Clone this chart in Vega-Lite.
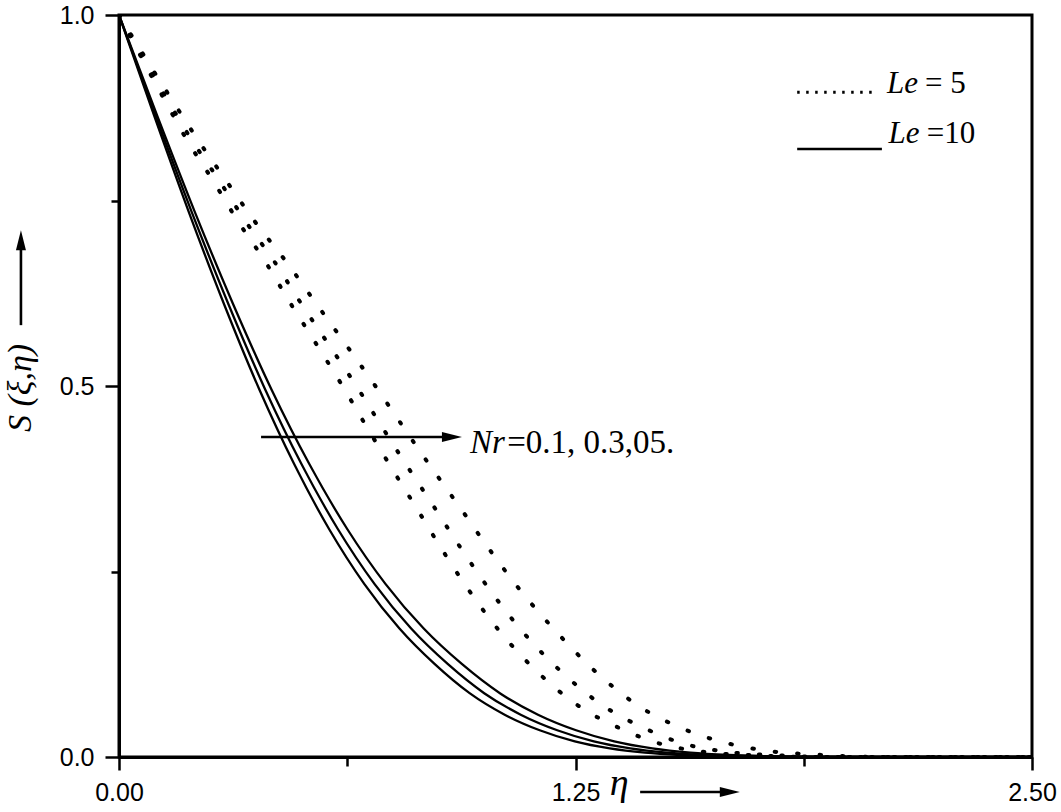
{
  "$schema": "https://vega.github.io/schema/vega-lite/v6.json",
  "width": 913,
  "height": 742,
  "autosize": "none",
  "padding": {"left": 119, "top": 15, "right": 29, "bottom": 55},
  "background": "white",
  "config": {
    "view": {"stroke": "black", "strokeWidth": 3},
    "axis": {
      "grid": false,
      "title": null,
      "domainColor": "black",
      "domainWidth": 3,
      "tickColor": "black",
      "tickWidth": 2.5,
      "labelColor": "black",
      "labelFont": "Liberation Sans",
      "labelFontSize": 25
    }
  },
  "datasets": {
    "curves": [
      {"eta": 0, "S": 1, "Le": 10, "Nr": 0.1},
      {"eta": 0.096, "S": 0.8647, "Le": 10, "Nr": 0.1},
      {"eta": 0.192, "S": 0.7334, "Le": 10, "Nr": 0.1},
      {"eta": 0.288, "S": 0.6099, "Le": 10, "Nr": 0.1},
      {"eta": 0.384, "S": 0.4957, "Le": 10, "Nr": 0.1},
      {"eta": 0.48, "S": 0.3945, "Le": 10, "Nr": 0.1},
      {"eta": 0.576, "S": 0.3066, "Le": 10, "Nr": 0.1},
      {"eta": 0.672, "S": 0.233, "Le": 10, "Nr": 0.1},
      {"eta": 0.768, "S": 0.1731, "Le": 10, "Nr": 0.1},
      {"eta": 0.864, "S": 0.1254, "Le": 10, "Nr": 0.1},
      {"eta": 0.96, "S": 0.086, "Le": 10, "Nr": 0.1},
      {"eta": 1.056, "S": 0.057, "Le": 10, "Nr": 0.1},
      {"eta": 1.152, "S": 0.036, "Le": 10, "Nr": 0.1},
      {"eta": 1.248, "S": 0.021, "Le": 10, "Nr": 0.1},
      {"eta": 1.344, "S": 0.0115, "Le": 10, "Nr": 0.1},
      {"eta": 1.44, "S": 0.0058, "Le": 10, "Nr": 0.1},
      {"eta": 1.536, "S": 0.0027, "Le": 10, "Nr": 0.1},
      {"eta": 1.632, "S": 0.0011, "Le": 10, "Nr": 0.1},
      {"eta": 1.728, "S": 0.0004, "Le": 10, "Nr": 0.1},
      {"eta": 1.92, "S": 0, "Le": 10, "Nr": 0.1},
      {"eta": 2.5, "S": 0, "Le": 10, "Nr": 0.1},

      {"eta": 0, "S": 1, "Le": 10, "Nr": 0.3},
      {"eta": 0.1, "S": 0.8647, "Le": 10, "Nr": 0.3},
      {"eta": 0.2, "S": 0.7334, "Le": 10, "Nr": 0.3},
      {"eta": 0.3, "S": 0.6099, "Le": 10, "Nr": 0.3},
      {"eta": 0.4, "S": 0.4957, "Le": 10, "Nr": 0.3},
      {"eta": 0.5, "S": 0.3945, "Le": 10, "Nr": 0.3},
      {"eta": 0.6, "S": 0.3066, "Le": 10, "Nr": 0.3},
      {"eta": 0.7, "S": 0.233, "Le": 10, "Nr": 0.3},
      {"eta": 0.8, "S": 0.1731, "Le": 10, "Nr": 0.3},
      {"eta": 0.9, "S": 0.1254, "Le": 10, "Nr": 0.3},
      {"eta": 1.0, "S": 0.086, "Le": 10, "Nr": 0.3},
      {"eta": 1.1, "S": 0.057, "Le": 10, "Nr": 0.3},
      {"eta": 1.2, "S": 0.036, "Le": 10, "Nr": 0.3},
      {"eta": 1.3, "S": 0.021, "Le": 10, "Nr": 0.3},
      {"eta": 1.4, "S": 0.0115, "Le": 10, "Nr": 0.3},
      {"eta": 1.5, "S": 0.0058, "Le": 10, "Nr": 0.3},
      {"eta": 1.6, "S": 0.0027, "Le": 10, "Nr": 0.3},
      {"eta": 1.7, "S": 0.0011, "Le": 10, "Nr": 0.3},
      {"eta": 1.8, "S": 0.0004, "Le": 10, "Nr": 0.3},
      {"eta": 2.0, "S": 0, "Le": 10, "Nr": 0.3},
      {"eta": 2.5, "S": 0, "Le": 10, "Nr": 0.3},

      {"eta": 0, "S": 1, "Le": 10, "Nr": 0.5},
      {"eta": 0.1043, "S": 0.8647, "Le": 10, "Nr": 0.5},
      {"eta": 0.2086, "S": 0.7334, "Le": 10, "Nr": 0.5},
      {"eta": 0.3129, "S": 0.6099, "Le": 10, "Nr": 0.5},
      {"eta": 0.4172, "S": 0.4957, "Le": 10, "Nr": 0.5},
      {"eta": 0.5215, "S": 0.3945, "Le": 10, "Nr": 0.5},
      {"eta": 0.6258, "S": 0.3066, "Le": 10, "Nr": 0.5},
      {"eta": 0.7301, "S": 0.233, "Le": 10, "Nr": 0.5},
      {"eta": 0.8344, "S": 0.1731, "Le": 10, "Nr": 0.5},
      {"eta": 0.9387, "S": 0.1254, "Le": 10, "Nr": 0.5},
      {"eta": 1.043, "S": 0.086, "Le": 10, "Nr": 0.5},
      {"eta": 1.1473, "S": 0.057, "Le": 10, "Nr": 0.5},
      {"eta": 1.2516, "S": 0.036, "Le": 10, "Nr": 0.5},
      {"eta": 1.3559, "S": 0.021, "Le": 10, "Nr": 0.5},
      {"eta": 1.4602, "S": 0.0115, "Le": 10, "Nr": 0.5},
      {"eta": 1.5645, "S": 0.0058, "Le": 10, "Nr": 0.5},
      {"eta": 1.6688, "S": 0.0027, "Le": 10, "Nr": 0.5},
      {"eta": 1.7731, "S": 0.0011, "Le": 10, "Nr": 0.5},
      {"eta": 1.8774, "S": 0.0004, "Le": 10, "Nr": 0.5},
      {"eta": 2.086, "S": 0, "Le": 10, "Nr": 0.5},
      {"eta": 2.5, "S": 0, "Le": 10, "Nr": 0.5},

      {"eta": 0, "S": 1, "Le": 5, "Nr": 0.1},
      {"eta": 0.06, "S": 0.944, "Le": 5, "Nr": 0.1},
      {"eta": 0.122, "S": 0.888, "Le": 5, "Nr": 0.1},
      {"eta": 0.183, "S": 0.834, "Le": 5, "Nr": 0.1},
      {"eta": 0.257, "S": 0.777, "Le": 5, "Nr": 0.1},
      {"eta": 0.327, "S": 0.721, "Le": 5, "Nr": 0.1},
      {"eta": 0.4, "S": 0.668, "Le": 5, "Nr": 0.1},
      {"eta": 0.47, "S": 0.611, "Le": 5, "Nr": 0.1},
      {"eta": 0.541, "S": 0.556, "Le": 5, "Nr": 0.1},
      {"eta": 0.612, "S": 0.5, "Le": 5, "Nr": 0.1},
      {"eta": 0.678, "S": 0.445, "Le": 5, "Nr": 0.1},
      {"eta": 0.747, "S": 0.389, "Le": 5, "Nr": 0.1},
      {"eta": 0.814, "S": 0.336, "Le": 5, "Nr": 0.1},
      {"eta": 0.884, "S": 0.28, "Le": 5, "Nr": 0.1},
      {"eta": 0.959, "S": 0.224, "Le": 5, "Nr": 0.1},
      {"eta": 1.043, "S": 0.169, "Le": 5, "Nr": 0.1},
      {"eta": 1.145, "S": 0.115, "Le": 5, "Nr": 0.1},
      {"eta": 1.258, "S": 0.069, "Le": 5, "Nr": 0.1},
      {"eta": 1.37, "S": 0.039, "Le": 5, "Nr": 0.1},
      {"eta": 1.481, "S": 0.018, "Le": 5, "Nr": 0.1},
      {"eta": 1.6, "S": 0.007, "Le": 5, "Nr": 0.1},
      {"eta": 1.75, "S": 0.002, "Le": 5, "Nr": 0.1},
      {"eta": 1.9, "S": 0, "Le": 5, "Nr": 0.1},
      {"eta": 2.5, "S": 0, "Le": 5, "Nr": 0.1},

      {"eta": 0, "S": 1, "Le": 5, "Nr": 0.3},
      {"eta": 0.064, "S": 0.944, "Le": 5, "Nr": 0.3},
      {"eta": 0.13, "S": 0.888, "Le": 5, "Nr": 0.3},
      {"eta": 0.196, "S": 0.834, "Le": 5, "Nr": 0.3},
      {"eta": 0.274, "S": 0.777, "Le": 5, "Nr": 0.3},
      {"eta": 0.348, "S": 0.721, "Le": 5, "Nr": 0.3},
      {"eta": 0.425, "S": 0.668, "Le": 5, "Nr": 0.3},
      {"eta": 0.499, "S": 0.611, "Le": 5, "Nr": 0.3},
      {"eta": 0.574, "S": 0.556, "Le": 5, "Nr": 0.3},
      {"eta": 0.65, "S": 0.5, "Le": 5, "Nr": 0.3},
      {"eta": 0.72, "S": 0.445, "Le": 5, "Nr": 0.3},
      {"eta": 0.793, "S": 0.389, "Le": 5, "Nr": 0.3},
      {"eta": 0.864, "S": 0.336, "Le": 5, "Nr": 0.3},
      {"eta": 0.938, "S": 0.28, "Le": 5, "Nr": 0.3},
      {"eta": 1.017, "S": 0.224, "Le": 5, "Nr": 0.3},
      {"eta": 1.105, "S": 0.169, "Le": 5, "Nr": 0.3},
      {"eta": 1.211, "S": 0.115, "Le": 5, "Nr": 0.3},
      {"eta": 1.326, "S": 0.069, "Le": 5, "Nr": 0.3},
      {"eta": 1.438, "S": 0.039, "Le": 5, "Nr": 0.3},
      {"eta": 1.546, "S": 0.018, "Le": 5, "Nr": 0.3},
      {"eta": 1.665, "S": 0.007, "Le": 5, "Nr": 0.3},
      {"eta": 1.815, "S": 0.002, "Le": 5, "Nr": 0.3},
      {"eta": 1.98, "S": 0, "Le": 5, "Nr": 0.3},
      {"eta": 2.5, "S": 0, "Le": 5, "Nr": 0.3},

      {"eta": 0, "S": 1, "Le": 5, "Nr": 0.5},
      {"eta": 0.07, "S": 0.944, "Le": 5, "Nr": 0.5},
      {"eta": 0.142, "S": 0.888, "Le": 5, "Nr": 0.5},
      {"eta": 0.213, "S": 0.834, "Le": 5, "Nr": 0.5},
      {"eta": 0.293, "S": 0.777, "Le": 5, "Nr": 0.5},
      {"eta": 0.373, "S": 0.721, "Le": 5, "Nr": 0.5},
      {"eta": 0.457, "S": 0.668, "Le": 5, "Nr": 0.5},
      {"eta": 0.54, "S": 0.611, "Le": 5, "Nr": 0.5},
      {"eta": 0.621, "S": 0.556, "Le": 5, "Nr": 0.5},
      {"eta": 0.702, "S": 0.5, "Le": 5, "Nr": 0.5},
      {"eta": 0.778, "S": 0.445, "Le": 5, "Nr": 0.5},
      {"eta": 0.857, "S": 0.389, "Le": 5, "Nr": 0.5},
      {"eta": 0.934, "S": 0.336, "Le": 5, "Nr": 0.5},
      {"eta": 1.014, "S": 0.28, "Le": 5, "Nr": 0.5},
      {"eta": 1.1, "S": 0.224, "Le": 5, "Nr": 0.5},
      {"eta": 1.197, "S": 0.169, "Le": 5, "Nr": 0.5},
      {"eta": 1.305, "S": 0.115, "Le": 5, "Nr": 0.5},
      {"eta": 1.422, "S": 0.069, "Le": 5, "Nr": 0.5},
      {"eta": 1.535, "S": 0.04, "Le": 5, "Nr": 0.5},
      {"eta": 1.646, "S": 0.021, "Le": 5, "Nr": 0.5},
      {"eta": 1.765, "S": 0.009, "Le": 5, "Nr": 0.5},
      {"eta": 1.915, "S": 0.003, "Le": 5, "Nr": 0.5},
      {"eta": 2.08, "S": 0, "Le": 5, "Nr": 0.5},
      {"eta": 2.5, "S": 0, "Le": 5, "Nr": 0.5}
    ]
  },
  "encoding": {
    "x": {
      "field": "eta",
      "type": "quantitative",
      "scale": {"domain": [0, 2.5], "nice": false, "zero": false},
      "axis": {
        "values": [0, 0.625, 1.25, 1.875, 2.5],
        "labelExpr": "datum.value == 0.625 || datum.value == 1.875 ? '' : format(datum.value, '.2f')",
        "tickSize": {"condition": {"test": "datum.value == 0.625 || datum.value == 1.875", "value": 9}, "value": 13},
        "labelPadding": 10,
        "labelFlush": false
      }
    },
    "y": {
      "field": "S",
      "type": "quantitative",
      "scale": {"domain": [0, 1], "nice": false, "zero": false},
      "axis": {
        "values": [0, 0.25, 0.5, 0.75, 1],
        "labelExpr": "datum.value == 0.25 || datum.value == 0.75 ? '' : format(datum.value, '.1f')",
        "tickSize": {"condition": {"test": "datum.value == 0.25 || datum.value == 0.75", "value": 8}, "value": 14},
        "labelPadding": 11,
        "labelFlush": false
      }
    }
  },
  "layer": [
    {
      "data": {"name": "curves"},
      "transform": [{"filter": "datum.Le == 10"}],
      "mark": {"type": "line", "color": "black", "strokeWidth": 2.3, "interpolate": "monotone", "clip": true},
      "encoding": {"detail": {"field": "Nr", "type": "nominal"}}
    },
    {
      "data": {"name": "curves"},
      "transform": [{"filter": "datum.Le == 5"}],
      "mark": {"type": "line", "color": "black", "strokeWidth": 4, "strokeDash": [1.5, 21], "strokeCap": "round", "interpolate": "monotone", "clip": true},
      "encoding": {"detail": {"field": "Nr", "type": "nominal"}}
    },
    {
      "data": {"values": [
        {"eta": 0.389, "eta2": 0.9, "S": 0.4313, "S2": 0.4313},
        {"eta": 1.427, "eta2": 1.66, "S": -0.0472, "S2": -0.0472},
        {"eta": -0.2685, "eta2": -0.2685, "S": 0.582, "S2": 0.69},
        {"eta": 1.857, "eta2": 2.089, "S": 0.8194, "S2": 0.8194}
      ]},
      "mark": {"type": "rule", "color": "black", "strokeWidth": 2.6},
      "encoding": {"x2": {"field": "eta2"}, "y2": {"field": "S2"}}
    },
    {
      "data": {"values": [
        {"eta": 1.857, "eta2": 2.07, "S": 0.8958, "S2": 0.8958}
      ]},
      "mark": {"type": "rule", "color": "black", "strokeWidth": 3, "strokeDash": [2.5, 6.5]},
      "encoding": {"x2": {"field": "eta2"}, "y2": {"field": "S2"}}
    },
    {
      "data": {"values": [
        {"eta": 0.939, "S": 0.4313},
        {"eta": 1.7, "S": -0.0472}
      ]},
      "mark": {"type": "point", "shape": "M-2,-0.5L0,0L-2,0.5Z", "size": 400, "filled": true, "color": "black", "opacity": 1, "strokeWidth": 0}
    },
    {
      "data": {"values": [
        {"eta": -0.2685, "S": 0.71}
      ]},
      "mark": {"type": "point", "shape": "M-0.5,2L0,0L0.5,2Z", "size": 400, "filled": true, "color": "black", "opacity": 1, "strokeWidth": 0}
    },
    {
      "data": {"values": [
        {"eta": 0.961, "S": 0.4097, "t": "Nr"}
      ]},
      "mark": {"type": "text", "font": "Liberation Serif", "fontStyle": "italic", "fontSize": 33, "align": "left", "baseline": "alphabetic", "color": "black"},
      "encoding": {"text": {"field": "t"}}
    },
    {
      "data": {"values": [
        {"eta": 1.063, "S": 0.4097, "t": "=0.1, 0.3,05."}
      ]},
      "mark": {"type": "text", "font": "Liberation Serif", "fontSize": 33, "align": "left", "baseline": "alphabetic", "color": "black"},
      "encoding": {"text": {"field": "t"}}
    },
    {
      "data": {"values": [
        {"eta": 2.103, "S": 0.8949, "t": "Le"},
        {"eta": 2.107, "S": 0.8279, "t": "Le"}
      ]},
      "mark": {"type": "text", "font": "Liberation Serif", "fontStyle": "italic", "fontSize": 31, "align": "left", "baseline": "alphabetic", "color": "black"},
      "encoding": {"text": {"field": "t"}}
    },
    {
      "data": {"values": [
        {"eta": 2.207, "S": 0.8949, "t": "= 5"},
        {"eta": 2.212, "S": 0.8279, "t": "=10"}
      ]},
      "mark": {"type": "text", "font": "Liberation Serif", "fontSize": 31, "align": "left", "baseline": "alphabetic", "color": "black"},
      "encoding": {"text": {"field": "t"}}
    },
    {
      "data": {"values": [
        {"eta": 1.344, "S": -0.0512, "t": "η"}
      ]},
      "mark": {"type": "text", "font": "Liberation Serif", "fontStyle": "italic", "fontSize": 38, "align": "left", "baseline": "alphabetic", "color": "black"},
      "encoding": {"text": {"field": "t"}}
    },
    {
      "data": {"values": [
        {"eta": -0.2685, "S": 0.438, "t": "S (ξ,η)"}
      ]},
      "mark": {"type": "text", "font": "Liberation Serif", "fontStyle": "italic", "fontSize": 34, "align": "left", "baseline": "middle", "angle": 270, "color": "black"},
      "encoding": {"text": {"field": "t"}}
    }
  ]
}
